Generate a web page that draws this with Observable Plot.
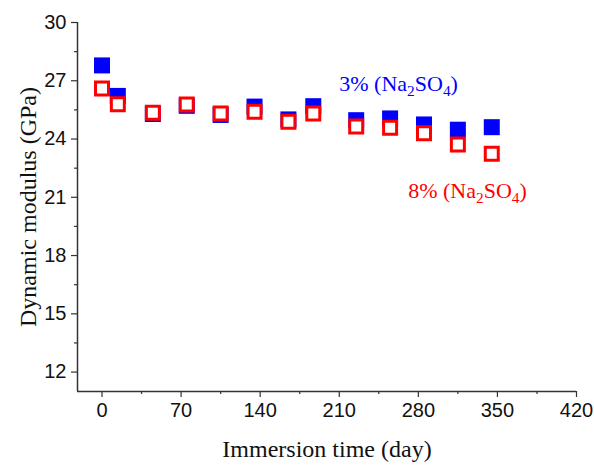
<!DOCTYPE html>
<html>
<head>
<meta charset="utf-8">
<script src="https://cdn.jsdelivr.net/npm/d3@7"></script>
<script src="https://cdn.jsdelivr.net/npm/@observablehq/plot@0.6"></script>
<style>
  html, body { margin: 0; padding: 0; background: #fff; }
</style>
</head>
<body>
<div id="chart"></div>
<script>
// ---- data ----
const days = [0, 14, 45, 75, 105, 135, 165, 187, 225, 255, 285, 315, 345];
const modulus3 = [27.79, 26.22, 25.29, 25.71, 25.24, 25.67, 25.01, 25.69, 24.97, 25.06, 24.75, 24.48, 24.61];
const modulus8 = [26.60, 25.79, 25.35, 25.78, 25.31, 25.40, 24.89, 25.31, 24.65, 24.58, 24.30, 23.72, 23.24];
const seriesNames = ["3% (Na2SO4)", "8% (Na2SO4)"];
const xTicks = [0, 70, 140, 210, 280, 350, 420];
const xMinor = [35, 105, 175, 245, 315, 385];
const yTicks = [12, 15, 18, 21, 24, 27, 30];
const yMinor = [13.5, 16.5, 19.5, 22.5, 25.5, 28.5];
const xLabel = "Immersion time (day)";
const yLabel = "Dynamic modulus (GPa)";

const s3 = days.map((d, i) => ({day: d, v: modulus3[i]}));
const s8 = days.map((d, i) => ({day: d, v: modulus8[i]}));
const labelPos = [
  {name: seriesNames[0], day: 210, v: 26.49, color: "#0000ff"},
  {name: seriesNames[1], day: 271, v: 20.94, color: "#ff0000"}
];

const xDomain = [-21.7, 420];
const yDomain = [11, 30];
const axisColor = "#333";

function subscriptRender(index, scales, values, dims, context, next) {
  const g = next(index, scales, values, dims, context);
  d3.select(g).selectAll("text").each(function () {
    const t = this.textContent;
    const sel = d3.select(this);
    sel.text(null);
    const parts = t.split(/(?<=[A-Za-z])(\d+)/);
    parts.forEach((p, k) => {
      if (p === "") return;
      const isSub = k % 2 === 1;
      const ts = sel.append("tspan").text(p);
      if (isSub) {
        ts.attr("font-size", "70%").attr("dy", 5);
      } else if (k > 0) {
        ts.attr("dy", -5);
      }
    });
  });
  return g;
}

const chart = Plot.plot({
  width: 594,
  height: 468,
  marginLeft: 77,
  marginRight: 18,
  marginTop: 22,
  marginBottom: 77,
  style: {fontFamily: "Liberation Sans, Arial, sans-serif", fontSize: "20px", color: "#111", background: "#fff"},
  x: {domain: xDomain},
  y: {domain: yDomain},
  marks: [
    Plot.axisY(yTicks, {tickSize: 6, tickPadding: 5, stroke: axisColor, fontSize: 20, fill: "#111", label: null, strokeWidth: 1.2}),
    Plot.axisY(yMinor, {tickSize: 3, tickFormat: () => "", stroke: axisColor, label: null, strokeWidth: 1.2}),
    Plot.axisX(xTicks, {tickSize: 6, tickPadding: 5, stroke: axisColor, fontSize: 20, fill: "#111", label: null, strokeWidth: 1.2}),
    Plot.axisX(xMinor, {tickSize: 3, tickFormat: () => "", stroke: axisColor, label: null, strokeWidth: 1.2}),
    Plot.ruleX([xDomain[0]], {stroke: axisColor, strokeWidth: 1.5}),
    Plot.ruleY([yDomain[0]], {stroke: axisColor, strokeWidth: 1.5}),
    Plot.dot(s3, {x: "day", y: "v", symbol: "square", r: 9.03, fill: "#0000ff", stroke: "none"}),
    Plot.dot(s8, {x: "day", y: "v", symbol: "square", r: 7.33, fill: "#fff", stroke: "#ff0000", strokeWidth: 3}),
    Plot.text(labelPos, {x: "day", y: "v", text: "name", fill: "color", textAnchor: "start", lineAnchor: "bottom",
      fontFamily: "Liberation Serif, Times New Roman, serif", fontSize: 22, render: subscriptRender}),
    Plot.text([xLabel], {frameAnchor: "bottom", dy: 58, lineAnchor: "middle", textAnchor: "middle", text: d => d,
      fontFamily: "Liberation Serif, Times New Roman, serif", fontSize: 24, fill: "#111"}),
    Plot.text([yLabel], {frameAnchor: "left", dx: -49, rotate: -90, lineAnchor: "middle", textAnchor: "middle", text: d => d,
      fontFamily: "Liberation Serif, Times New Roman, serif", fontSize: 24, fill: "#111"})
  ]
});
document.getElementById("chart").appendChild(chart);
</script>
</body>
</html>
